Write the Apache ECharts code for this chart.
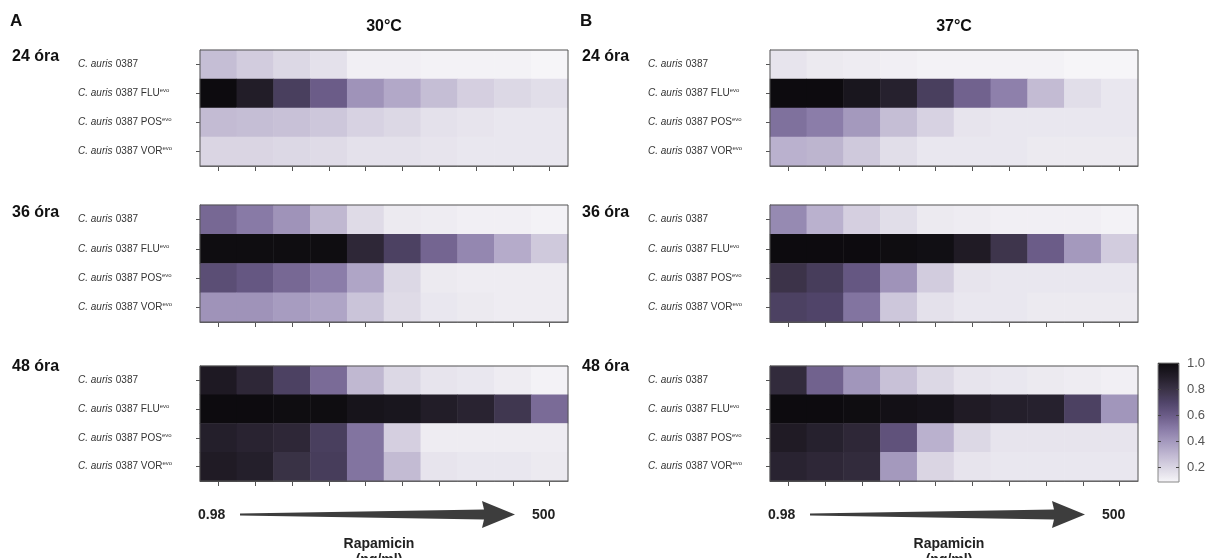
<!DOCTYPE html>
<html>
<head>
<meta charset="utf-8">
<script src="https://cdn.jsdelivr.net/npm/echarts@6/dist/echarts.min.js"></script>
<style>
  html, body { margin: 0; background: #fff; }
  #main { width: 1209px; height: 558px; }
</style>
</head>
<body>
<div id="main"></div>
<script>
// rapamicin kétszeres hígítási sor (ng/ml)
var concentrations = ['0.98', '1.95', '3.9', '7.8', '15.6', '31.25', '62.5', '125', '250', '500'];
var strains = ['C. auris 0387', 'C. auris 0387 FLU', 'C. auris 0387 POS', 'C. auris 0387 VOR'];
var times = ['24 óra', '36 óra', '48 óra'];
var colorbarTicks = [0.2, 0.4, 0.6, 0.8, 1.0];

// 30°C
var t30h24 = [
  [0.28, 0.23, 0.19, 0.16, 0.11, 0.11, 0.10, 0.10, 0.10, 0.09],
  [1.00, 0.90, 0.73, 0.60, 0.42, 0.35, 0.28, 0.22, 0.19, 0.17],
  [0.29, 0.28, 0.27, 0.25, 0.21, 0.19, 0.16, 0.15, 0.14, 0.14],
  [0.20, 0.20, 0.19, 0.18, 0.16, 0.16, 0.15, 0.14, 0.14, 0.14]
];
var t30h36 = [
  [0.56, 0.50, 0.42, 0.30, 0.18, 0.13, 0.12, 0.11, 0.11, 0.10],
  [0.99, 0.99, 0.99, 0.99, 0.85, 0.72, 0.57, 0.46, 0.34, 0.24],
  [0.66, 0.62, 0.56, 0.49, 0.36, 0.19, 0.13, 0.12, 0.12, 0.12],
  [0.42, 0.42, 0.39, 0.36, 0.26, 0.18, 0.14, 0.13, 0.12, 0.12]
];
var t30h48 = [
  [0.92, 0.85, 0.72, 0.55, 0.30, 0.19, 0.15, 0.14, 0.12, 0.10],
  [1.00, 1.00, 0.99, 0.99, 0.95, 0.94, 0.90, 0.87, 0.77, 0.55],
  [0.89, 0.87, 0.85, 0.73, 0.52, 0.22, 0.12, 0.12, 0.12, 0.12],
  [0.91, 0.89, 0.80, 0.74, 0.52, 0.29, 0.15, 0.14, 0.14, 0.13]
];

// 37°C
var t37h24 = [
  [0.15, 0.13, 0.12, 0.11, 0.10, 0.10, 0.10, 0.10, 0.09, 0.09],
  [1.00, 1.00, 0.94, 0.88, 0.73, 0.58, 0.48, 0.29, 0.17, 0.14],
  [0.53, 0.49, 0.40, 0.28, 0.21, 0.15, 0.14, 0.14, 0.14, 0.14],
  [0.32, 0.31, 0.24, 0.17, 0.14, 0.14, 0.14, 0.13, 0.13, 0.13]
];
var t37h36 = [
  [0.45, 0.32, 0.22, 0.17, 0.13, 0.12, 0.11, 0.11, 0.11, 0.10],
  [1.00, 1.00, 1.00, 0.99, 0.98, 0.91, 0.78, 0.60, 0.40, 0.23],
  [0.79, 0.74, 0.62, 0.42, 0.23, 0.15, 0.14, 0.14, 0.14, 0.14],
  [0.72, 0.70, 0.52, 0.25, 0.16, 0.14, 0.14, 0.13, 0.13, 0.13]
];
var t37h48 = [
  [0.83, 0.58, 0.41, 0.27, 0.19, 0.15, 0.14, 0.13, 0.12, 0.11],
  [1.00, 1.00, 0.99, 0.97, 0.96, 0.91, 0.89, 0.88, 0.72, 0.41],
  [0.91, 0.88, 0.85, 0.64, 0.32, 0.19, 0.15, 0.15, 0.15, 0.15],
  [0.87, 0.85, 0.83, 0.40, 0.20, 0.15, 0.14, 0.14, 0.14, 0.14]
];

var panels = [
  { letter: 'A', title: '30°C', left: 200, data: [t30h24, t30h36, t30h48] },
  { letter: 'B', title: '37°C', left: 770, data: [t37h24, t37h36, t37h48] }
];
var gridTops = [50, 205, 366];
var gridHeights = [116, 117, 115];
var timeLabelY = [57, 213, 367];
var gridWidth = 368;
var FONT = "'Liberation Sans', Arial, sans-serif";

var myChart = echarts.init(document.getElementById('main'));

var grids = [], xAxes = [], yAxes = [], series = [], graphics = [];

panels.forEach(function (p, pi) {
  p.data.forEach(function (mat, ti) {
    var idx = grids.length;
    grids.push({
      left: p.left, top: gridTops[ti], width: gridWidth, height: gridHeights[ti],
      show: true, borderColor: '#555', borderWidth: 1, backgroundColor: 'transparent', z: 5
    });
    xAxes.push({
      gridIndex: idx, type: 'category', data: concentrations,
      axisLine: { show: true, lineStyle: { color: '#555', width: 1 } },
      axisLabel: { show: false, interval: 0 }, splitLine: { show: false },
      axisTick: { show: true, interval: 0, alignWithLabel: true, length: 5, lineStyle: { color: '#555' } }
    });
    yAxes.push({
      gridIndex: idx, type: 'category', data: strains, inverse: true,
      axisLine: { show: true, lineStyle: { color: '#555', width: 1 } },
      splitLine: { show: false },
      axisTick: { show: true, interval: 0, alignWithLabel: true, length: 4, lineStyle: { color: '#555' } },
      axisLabel: {
        margin: 122, align: 'left', interval: 0,
        formatter: function (v) {
          var rest = v.replace('C. auris ', '');
          return '{i|C. auris} {n|' + rest + '}' + (rest.indexOf(' ') > 0 ? '{s|evo}' : '');
        },
        rich: {
          i: { fontStyle: 'italic', fontSize: 10, color: '#333', fontFamily: FONT, lineHeight: 12 },
          n: { fontSize: 10, color: '#333', fontFamily: FONT, lineHeight: 12 },
          s: { fontSize: 6, color: '#333', fontFamily: FONT, verticalAlign: 'top', lineHeight: 7 }
        }
      }
    });
    var cells = [];
    mat.forEach(function (row, r) {
      row.forEach(function (v, c) { cells.push([c, r, v]); });
    });
    series.push({
      type: 'heatmap', xAxisIndex: idx, yAxisIndex: idx, data: cells,
      emphasis: { disabled: true }, progressive: 0
    });
    graphics.push({
      type: 'text', x: p.left - 188, y: timeLabelY[ti],
      style: { text: times[ti], font: 'bold 16px ' + FONT, fill: '#111', verticalAlign: 'middle' }
    });
  });

  // fejlécek
  graphics.push({
    type: 'text', x: p.left - 190, y: 21,
    style: { text: p.letter, font: 'bold 17px ' + FONT, fill: '#111', verticalAlign: 'middle' }
  });
  graphics.push({
    type: 'text', x: p.left + gridWidth / 2, y: 27,
    style: { text: p.title, font: 'bold 16px ' + FONT, fill: '#111', align: 'center', verticalAlign: 'middle' }
  });

  // koncentráció nyíl
  var o = p.left - 200;
  graphics.push({
    type: 'polygon',
    shape: { points: [[o + 240, 513.5], [o + 484, 509.5], [o + 482, 501], [o + 515, 514.5],
                      [o + 482, 528], [o + 484, 519.5], [o + 240, 515.5]] },
    style: { fill: '#3d3d3d' }
  });
  graphics.push({
    type: 'text', x: o + 198, y: 515,
    style: { text: concentrations[0], font: 'bold 14px ' + FONT, fill: '#222', verticalAlign: 'middle' }
  });
  graphics.push({
    type: 'text', x: o + 532, y: 515,
    style: { text: concentrations[concentrations.length - 1], font: 'bold 14px ' + FONT, fill: '#222', verticalAlign: 'middle' }
  });
  // második sor lelóg a kép aljáról
  graphics.push({
    type: 'text', x: o + 379, y: 552,
    style: { text: 'Rapamicin\n(ng/ml)', font: 'bold 14px ' + FONT, fill: '#222', align: 'center',
             verticalAlign: 'middle', lineHeight: 16 }
  });
});

// színskála rács
var cbIdx = grids.length;
grids.push({
  left: 1158, top: 363, width: 21, height: 119,
  show: true, borderColor: '#888', borderWidth: 1, backgroundColor: 'transparent', z: 10
});
xAxes.push({
  gridIndex: cbIdx, type: 'value', min: 0, max: 1, show: false
});
yAxes.push({
  gridIndex: cbIdx, type: 'value', min: 0.09, max: 1, position: 'left', z: 10,
  axisLine: { show: false }, splitLine: { show: false }, axisLabel: { show: false },
  axisTick: { show: true, inside: true, length: 3, customValues: colorbarTicks, lineStyle: { color: '#444' } }
});
yAxes.push({
  gridIndex: cbIdx, type: 'value', min: 0.09, max: 1, position: 'right', z: 10,
  axisLine: { show: false }, splitLine: { show: false },
  axisTick: { show: true, inside: true, length: 3, customValues: colorbarTicks, lineStyle: { color: '#444' } },
  axisLabel: {
    margin: 8, customValues: colorbarTicks, color: '#555', fontSize: 13, fontFamily: FONT,
    formatter: function (v) { return v.toFixed(1); }
  }
});

var option = {
  animation: false,
  backgroundColor: '#fff',
  textStyle: { fontFamily: FONT },
  grid: grids,
  xAxis: xAxes,
  yAxis: yAxes,
  visualMap: {
    type: 'continuous', min: 0.09, max: 1, calculable: false, hoverLink: false,
    left: 1158, top: 363, itemWidth: 21, itemHeight: 119, padding: 0, z: 4,
    text: ['', ''], seriesIndex: [0, 1, 2, 3, 4, 5],
    inRange: { color: ['#f6f5f8', '#dcd8e5', '#c2bad3', '#a69bbf', '#8a7ca8',
                       '#6c5d89', '#51456a', '#3a3246', '#221d28', '#0d0b0f'] }
  },
  series: series,
  graphic: graphics
};

myChart.setOption(option);
</script>
</body>
</html>
